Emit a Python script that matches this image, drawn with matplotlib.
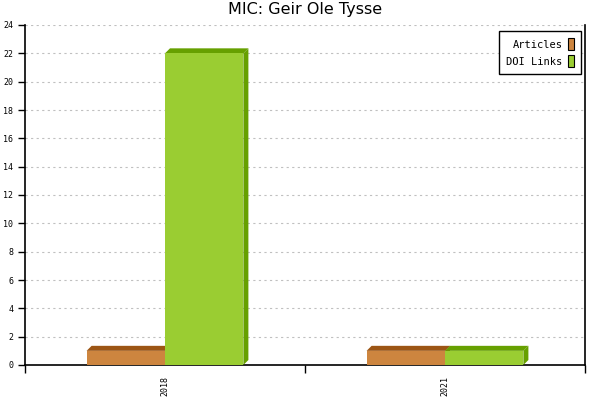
import matplotlib
matplotlib.use("Agg")
import matplotlib.pyplot as plt
from matplotlib.patches import Polygon, Patch
import numpy as np

years = ["2018", "2021"]
articles = [1, 1]
doi_links = [22, 1]

series = [
    ("Articles", articles, "#cd853f", "#9c5514"),
    ("DOI Links", doi_links, "#9acd32", "#66a000"),
]

fig = plt.figure(figsize=(6, 4), dpi=100)
ax = fig.add_axes([25 / 600, 35 / 400, 560 / 600, 340 / 400])

ymax = 24
ax.set_xlim(0, len(years))
ax.set_ylim(0, ymax)

width = 0.28
# 3d depth, about 5 px each way
dx = 5 / 280
dy = 5 * ymax / 340

x = np.arange(len(years)) + 0.5

for i, (name, vals, face, dark) in enumerate(series):
    for xc, v in zip(x, vals):
        x0 = xc - width + i * width
        x1 = x0 + width
        ax.add_patch(Polygon([(x0, v), (x0 + dx, v + dy), (x1 + dx, v + dy), (x1, v)],
                             closed=True, facecolor=dark, edgecolor="none", zorder=3))
        ax.add_patch(Polygon([(x1, 0), (x1 + dx, dy), (x1 + dx, v + dy), (x1, v)],
                             closed=True, facecolor=dark, edgecolor="none", zorder=3))
        ax.bar(x0, v, width, align="edge", color=face, edgecolor="none", zorder=4)

mono = "DejaVu Sans Mono"

ax.set_yticks(np.arange(0, ymax + 1, 2))
ax.tick_params(axis="y", direction="out", length=5, width=1, labelsize=6)
for lab in ax.get_yticklabels():
    lab.set_family(mono)

ax.set_xticks(np.arange(0, len(years) + 1))
ax.set_xticklabels([])
ax.tick_params(axis="x", which="major", direction="out", length=6, width=1)
ax.set_xticks(x, minor=True)
ax.set_xticklabels(years, minor=True, rotation=90, fontsize=6, family=mono)
ax.tick_params(axis="x", which="minor", length=0, pad=8)

ax.yaxis.grid(True, color="#c0c0c0", linestyle=(0, (2, 3)), linewidth=0.8)
ax.set_axisbelow(True)

ax.spines["top"].set_visible(False)
for s in ["left", "bottom", "right"]:
    ax.spines[s].set_linewidth(1.2)

ax.set_title("MIC: Geir Ole Tysse", fontsize=11.5, pad=8)

handles = [Patch(facecolor=face, edgecolor="black", linewidth=0.8, label=name)
           for name, _, face, _ in series]
leg = ax.legend(handles=handles, loc="upper right", markerfirst=False,
                prop={"family": mono, "size": 7.5}, handlelength=0.6,
                handleheight=1.3, handletextpad=0.5, borderpad=0.7,
                labelspacing=0.55, fancybox=False, edgecolor="black",
                framealpha=1, borderaxespad=0,
                bbox_to_anchor=(0.993, 0.982))
leg.get_frame().set_linewidth(1)
for t in leg.get_texts():
    t.set_ha("right")

fig.savefig("out.png", dpi=100)
